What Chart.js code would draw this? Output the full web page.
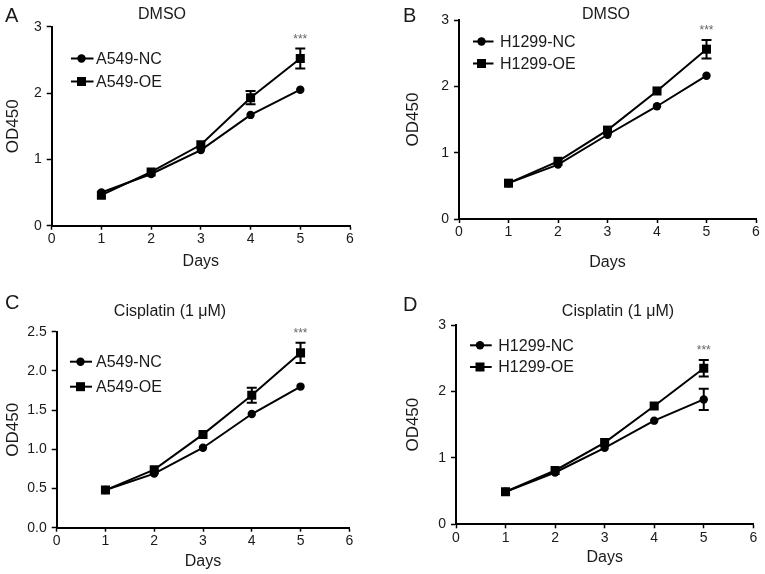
<!DOCTYPE html>
<html><head><meta charset="utf-8">
<script src="https://cdn.jsdelivr.net/npm/chart.js@4/dist/chart.umd.min.js"></script>
<style>
html,body{margin:0;padding:0;background:#fff;}
#wrap{position:relative;width:765px;height:574px;overflow:hidden;background:#fff;}
canvas{position:absolute;display:block;}
</style></head><body>
<div id="wrap">
<canvas id="cA" width="380" height="287" style="left:0;top:0"></canvas>
<canvas id="cB" width="385" height="287" style="left:380px;top:0"></canvas>
<canvas id="cC" width="380" height="287" style="left:0;top:287px"></canvas>
<canvas id="cD" width="385" height="287" style="left:380px;top:287px"></canvas>
</div>
<script>
// ---------- data ----------
const days = [1, 2, 3, 4, 5];
const xTicks = [0, 1, 2, 3, 4, 5, 6];
const yTicks3 = [0, 1, 2, 3];
const yTicks25 = [0, 0.5, 1.0, 1.5, 2.0, 2.5];
const xTitle = 'Days';
const yTitle = 'OD450';
const titleDMSO = 'DMSO';
const titleCis = 'Cisplatin (1 μM)';
const seriesA549 = ['A549-NC', 'A549-OE'];
const seriesH1299 = ['H1299-NC', 'H1299-OE'];
const sigLabel = '***';

// Panel A: A549, DMSO
const ncA = [0.50, 0.78, 1.14, 1.67, 2.05];
const oeA = [0.46, 0.81, 1.22, 1.93, 2.52];
const ncAerr = [0, 0, 0, 0, 0];
const oeAerr = [0, 0, 0, 0.10, 0.15];
// Panel B: H1299, DMSO
const ncB = [0.54, 0.82, 1.27, 1.70, 2.16];
const oeB = [0.54, 0.87, 1.34, 1.93, 2.56];
const ncBerr = [0, 0, 0, 0, 0];
const oeBerr = [0, 0, 0, 0, 0.14];
// Panel C: A549, Cisplatin
const ncC = [0.48, 0.69, 1.02, 1.45, 1.80];
const oeC = [0.48, 0.74, 1.19, 1.69, 2.23];
const ncCerr = [0, 0, 0, 0, 0];
const oeCerr = [0, 0, 0, 0.095, 0.13];
// Panel D: H1299, Cisplatin
const ncD = [0.49, 0.78, 1.15, 1.56, 1.88];
const oeD = [0.49, 0.81, 1.23, 1.78, 2.35];
const ncDerr = [0, 0, 0, 0, 0.16];
const oeDerr = [0, 0, 0, 0, 0.125];

// ---------- styling / layout ----------
const F = "'Liberation Sans', Arial, Helvetica, sans-serif";
const TXT = '#1a1a1a';

const decor = {
  id: 'decor',
  afterDatasetsDraw(chart, args, o) {
    const ctx = chart.ctx, xs = chart.scales.x, ys = chart.scales.y;
    ctx.save();
    ctx.strokeStyle = '#000'; ctx.lineWidth = 2;
    chart.data.datasets.forEach((ds, i) => {
      const err = o.errors[i];
      ds.data.forEach((p, j) => {
        const e = err[j]; if (!e) return;
        const x = xs.getPixelForValue(p.x);
        const y1 = ys.getPixelForValue(p.y + e), y2 = ys.getPixelForValue(p.y - e);
        ctx.beginPath();
        ctx.moveTo(x, y1); ctx.lineTo(x, y2);
        ctx.moveTo(x - 5, y1); ctx.lineTo(x + 5, y1);
        ctx.moveTo(x - 5, y2); ctx.lineTo(x + 5, y2);
        ctx.stroke();
      });
    });
    // significance stars above day 5 of OE
    const oe = chart.data.datasets[1].data[4];
    const top = oe.y + o.errors[1][4];
    ctx.fillStyle = '#666';
    ctx.font = '12px ' + F;
    ctx.textAlign = 'center'; ctx.textBaseline = 'middle';
    ctx.fillText(sigLabel, xs.getPixelForValue(oe.x), ys.getPixelForValue(top) - 9);
    ctx.restore();
  },
  afterDraw(chart, args, o) {
    const ctx = chart.ctx;
    ctx.save();
    ctx.fillStyle = TXT;
    ctx.textBaseline = 'middle';
    ctx.textAlign = 'left';
    ctx.font = '20px ' + F;
    ctx.fillText(o.letter, o.letterPos[0], o.letterPos[1]);
    ctx.textAlign = 'center';
    ctx.font = '16px ' + F;
    ctx.fillText(o.title, o.titlePos[0], o.titlePos[1]);
    // legend
    chart.data.datasets.forEach((ds, i) => {
      const y = o.legRows[i];
      const [x1, x2, mx, tx] = o.legX;
      ctx.strokeStyle = '#000'; ctx.lineWidth = 2;
      ctx.beginPath(); ctx.moveTo(x1, y); ctx.lineTo(x2, y); ctx.stroke();
      ctx.fillStyle = '#000';
      if (ds.pointStyle === 'circle') {
        ctx.beginPath(); ctx.arc(mx, y, 4.2, 0, Math.PI * 2); ctx.fill();
      } else {
        ctx.fillRect(mx - 4.5, y - 4.5, 9, 9);
      }
      ctx.fillStyle = TXT;
      ctx.textAlign = 'left';
      ctx.font = '16px ' + F;
      ctx.fillText(ds.label, tx, y + 1);
    });
    ctx.restore();
  }
};

function makeChart(id, cfg) {
  const pts = arr => days.map((d, i) => ({ x: d, y: arr[i] }));
  const yT = cfg.yTicks;
  return new Chart(document.getElementById(id), {
    type: 'line',
    data: {
      datasets: [
        { label: cfg.labels[0], data: pts(cfg.nc), borderColor: '#000', backgroundColor: '#000',
          borderWidth: 2, pointStyle: 'circle', pointRadius: 4.2, pointBackgroundColor: '#000',
          pointBorderWidth: 0, tension: 0 },
        { label: cfg.labels[1], data: pts(cfg.oe), borderColor: '#000', backgroundColor: '#000',
          borderWidth: 2, pointStyle: 'rect', pointRadius: 6.4, pointBackgroundColor: '#000',
          pointBorderWidth: 0, tension: 0 }
      ]
    },
    options: {
      responsive: false, animation: false, events: [],
      layout: { padding: { left: 0, top: cfg.top, right: cfg.right, bottom: 0 } },
      plugins: {
        legend: { display: false }, tooltip: { enabled: false }, title: { display: false },
        decor: { errors: [cfg.ncErr, cfg.oeErr], letter: cfg.letter, letterPos: cfg.letterPos,
                 title: cfg.title, titlePos: cfg.titlePos, legRows: cfg.legRows, legX: cfg.legX }
      },
      scales: {
        x: {
          type: 'linear', min: 0, max: 6,
          afterBuildTicks: s => { s.ticks = xTicks.map(v => ({ value: v })); },
          afterFit: s => { s.height = cfg.xh; },
          grid: { drawOnChartArea: false, drawTicks: true, tickLength: 4, tickWidth: 1.5, tickColor: '#000' },
          border: { display: true, color: '#000', width: 2 },
          ticks: { color: TXT, font: { size: 14, family: F }, padding: 1, maxRotation: 0, autoSkip: false },
          title: { display: true, text: xTitle, color: TXT, font: { size: 16, family: F },
                   padding: { top: 0, bottom: cfg.xtp } }
        },
        y: {
          type: 'linear', min: 0, max: yT[yT.length - 1],
          afterBuildTicks: s => { s.ticks = yT.map(v => ({ value: v })); },
          afterFit: s => { s.width = cfg.yw; },
          grid: { drawOnChartArea: false, drawTicks: true, tickLength: 5, tickWidth: 1.5, tickColor: '#000' },
          border: { display: true, color: '#000', width: 2 },
          ticks: { color: TXT, font: { size: 14, family: F }, padding: 5, autoSkip: false,
                   callback: v => cfg.fmt(v) },
          title: { display: true, text: yTitle, color: TXT, font: { size: 17, family: F },
                   padding: { top: cfg.ytp, bottom: 0 } }
        }
      }
    },
    plugins: [decor]
  });
}

const fmtInt = v => String(v);
const fmt1 = v => Number(v).toFixed(1);

makeChart('cA', { labels: seriesA549, nc: ncA, oe: oeA, ncErr: ncAerr, oeErr: oeAerr,
  yTicks: yTicks3, fmt: fmtInt, top: 26.7, right: 30, yw: 51.7, xh: 61.3, xtp: 15.4, ytp: 3.5,
  letter: 'A', letterPos: [5, 16], title: titleDMSO, titlePos: [162, 15],
  legRows: [58.5, 81.5], legX: [71, 93.5, 81.5, 96] });
makeChart('cB', { labels: seriesH1299, nc: ncB, oe: oeB, ncErr: ncBerr, oeErr: oeBerr,
  yTicks: yTicks3, fmt: fmtInt, top: 20, right: 9, yw: 79, xh: 68, xtp: 14.4, ytp: 23.5,
  letter: 'B', letterPos: [23, 16], title: titleDMSO, titlePos: [226, 15],
  legRows: [41.5, 63.5], legX: [93, 113.5, 101.5, 120] });
makeChart('cC', { labels: seriesA549, nc: ncC, oe: oeC, ncErr: ncCerr, oeErr: oeCerr,
  yTicks: yTicks25, fmt: fmt1, top: 44.7, right: 30.7, yw: 56.7, xh: 46.3, xtp: 2.7, ytp: 3.5,
  letter: 'C', letterPos: [5, 16], title: titleCis, titlePos: [170, 24.7],
  legRows: [74.7, 99.7], legX: [70, 92, 80.5, 96] });
makeChart('cD', { labels: seriesH1299, nc: ncD, oe: oeD, ncErr: ncDerr, oeErr: oeDerr,
  yTicks: yTicks3, fmt: fmtInt, top: 38, right: 11.7, yw: 76, xh: 49.7, xtp: 6.4, ytp: 23.5,
  letter: 'D', letterPos: [23, 18], title: titleCis, titlePos: [238, 24.7],
  legRows: [58.3, 80], legX: [90, 111.7, 100, 118.3] });
</script>
</body></html>
